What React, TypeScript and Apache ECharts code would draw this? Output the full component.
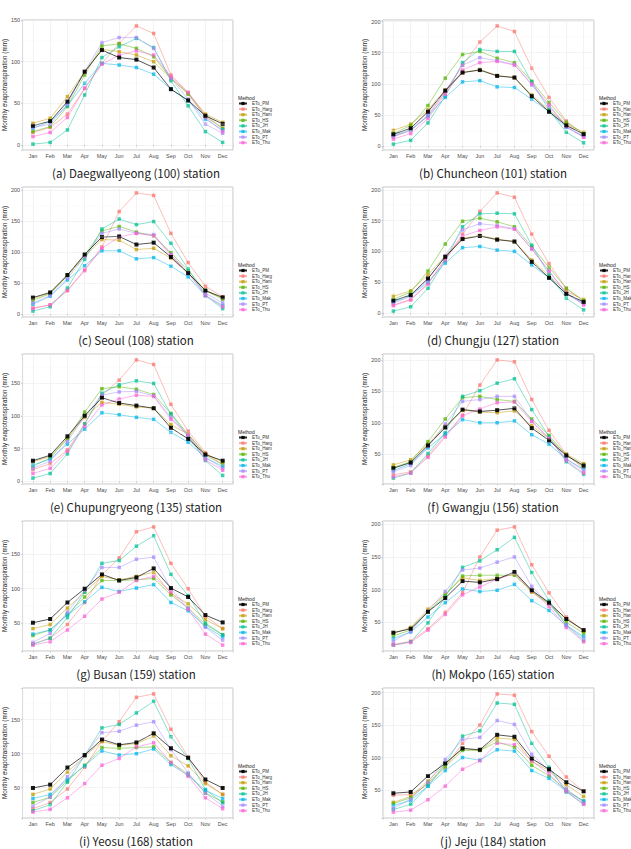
import React, { useEffect, useRef } from "react";
import * as echarts from "echarts";

const MONTHS = ["Jan", "Feb", "Mar", "Apr", "May", "Jun", "Jul", "Aug", "Sep", "Oct", "Nov", "Dec"];
const STATIONS = [
  "(a) Daegwallyeong (100) station",
  "(b) Chuncheon (101) station",
  "(c) Seoul (108) station",
  "(d) Chungju (127) station",
  "(e) Chupungryeong (135) station",
  "(f) Gwangju (156) station",
  "(g) Busan (159) station",
  "(h) Mokpo (165) station",
  "(i) Yeosu (168) station",
  "(j) Jeju (184) station",
];
const METHODS = ["ETo_PM", "ETo_Harg", "ETo_Ham", "ETo_HS", "ETo_JH", "ETo_Mak", "ETo_PT", "ETo_Thu"];
const COLORS = ["#000000", "#F8766D", "#C49A00", "#53B400", "#00C094", "#00B6EB", "#A58AFF", "#FB61D7"];

// one row per station (a)..(j), 12 monthly values
const etoPM = [
  [23, 28.5, 52, 88, 114, 105, 102.5, 93, 67, 53.5, 35, 25.3],
  [18.8, 28.4, 55, 89, 118, 122, 112.6, 110, 80, 55, 33, 19],
  [26.7, 35, 63, 96, 124, 125, 112, 115, 92, 66, 38, 27],
  [20, 29, 56, 91, 120, 125, 119, 116, 83, 57, 31, 18],
  [31.6, 40, 69, 100.5, 128, 120, 116, 112, 82, 65, 41, 31.6],
  [27.7, 36.7, 64, 92.5, 121, 118, 120, 123, 91.5, 72, 48, 32],
  [50.5, 56, 80, 100, 121, 112, 116.5, 129.6, 101, 88, 61.7, 51],
  [34, 40, 66, 87, 113, 111, 116, 127, 99, 80, 55, 38],
  [49.5, 54.4, 79.6, 98, 121, 113, 116.5, 130, 108, 94, 62, 49.5],
  [45, 47, 71.6, 91, 114, 112, 135, 132, 98.5, 82, 62, 48],
];
const etoHarg = [
  [15, 21, 37, 68, 98, 122, 143, 134, 84, 63, 36, 20],
  [15, 25, 48, 86, 130, 167, 193, 184, 125, 78, 40, 18],
  [10, 15, 38, 72, 108, 165, 195, 191, 130, 83, 45, 28],
  [13, 22, 48, 88, 128, 165, 195, 188, 128, 80, 40, 18],
  [18, 27, 48, 88, 132, 155, 186, 179, 118, 77, 44, 25],
  [17, 22, 47, 80, 112, 160, 200, 197, 137, 88, 50, 27],
  [20, 28, 48, 80, 120, 145, 183, 190, 137, 100, 60, 42],
  [16, 21, 40, 65, 95, 150, 191, 196, 138, 95, 58, 36],
  [19, 28, 48, 80, 118, 147, 183, 188, 136, 95, 58, 40],
  [42, 43, 58, 85, 122, 150, 198, 196, 140, 102, 70, 48],
];
const etoHam = [
  [26, 32, 58, 88, 115, 112, 108, 100, 80, 62, 37, 27],
  [25, 35, 58, 90, 118, 123, 113, 110, 82, 58, 35, 22],
  [25, 34, 62, 93, 120, 119, 104, 106, 90, 66, 38, 26],
  [27, 36, 62, 93, 121, 126, 120, 116, 86, 60, 35, 22],
  [30, 38, 66, 98, 121, 118, 114, 112, 87, 72, 42, 30],
  [33, 41, 66, 95, 120, 117, 116, 119, 95, 75, 50, 35],
  [42, 48, 72, 95, 118, 113, 118, 124, 93, 78, 55, 42],
  [33, 42, 70, 93, 118, 114, 117, 124, 96, 78, 55, 37],
  [40, 48, 73, 96, 118, 112, 115, 126, 97, 82, 56, 40],
  [31, 40, 64, 90, 114, 111, 130, 128, 94, 80, 58, 40],
];
const etoHS = [
  [16, 22, 46, 84, 119, 121.5, 116, 106, 80, 61, 34, 20],
  [20, 33, 65, 109, 147, 152, 141, 134, 104, 70, 38, 20],
  [22, 33, 62, 95, 134, 141, 132, 126, 99, 70, 38, 24],
  [22, 34, 68, 112, 149, 154, 148, 140, 108, 74, 40, 20],
  [23, 36, 65, 106, 142, 145, 141, 133, 104, 72, 40, 26],
  [29, 38, 70, 106, 140, 142, 137, 134, 106, 80, 48, 30],
  [32, 40, 63, 88, 112, 112, 113, 115, 91, 72, 48, 33],
  [29, 38, 66, 91, 121, 122, 122, 122, 98, 78, 50, 33],
  [28, 36, 60, 83, 109, 108, 109, 110, 87, 70, 42, 29],
  [29, 38, 61, 86, 111, 111, 124, 116, 88, 72, 50, 33],
];
const etoJH = [
  [1, 3, 18, 60, 105, 118, 128, 117, 77, 47, 16, 3],
  [3, 9, 37, 80, 134, 155, 152, 152, 103, 58, 22, 5],
  [5, 12, 42, 88, 137, 153, 144, 149, 114, 73, 30, 9],
  [3, 10, 40, 85, 140, 161, 162, 161, 110, 62, 24, 5],
  [5, 12, 42, 88, 135, 148, 154, 150, 103, 69, 32, 9],
  [12, 20, 51, 84, 142, 151, 163, 170, 121, 78, 38, 18],
  [19, 28, 58, 95, 137, 141, 162, 177, 121, 90, 50, 33],
  [15, 20, 49, 89, 134, 144, 161, 180, 126, 83, 45, 22],
  [16, 25, 58, 97, 138, 143, 160, 177, 125, 93, 47, 28],
  [20, 28, 56, 90, 133, 141, 184, 182, 122, 85, 47, 28],
];
const etoMak = [
  [20, 28, 47, 74, 98, 96, 93, 85, 67, 53, 31, 18],
  [17, 26, 48, 78, 103, 105, 95, 94, 75, 55, 30, 16],
  [16, 29, 55, 78, 102, 102, 89, 91, 77, 60, 30, 14],
  [18, 28, 50, 81, 106, 108, 102, 100, 78, 57, 31, 16],
  [25, 34, 57, 80, 105, 102, 98, 95, 75, 60, 36, 23],
  [24, 35, 60, 82, 105, 100, 100, 103, 81, 66, 42, 26],
  [34, 40, 62, 81, 102, 96, 101, 106, 80, 68, 45, 30],
  [25, 35, 58, 80, 101, 97, 99, 108, 83, 68, 45, 28],
  [34, 40, 62, 82, 104, 98, 100, 107, 84, 68, 46, 34],
  [26, 34, 56, 80, 100, 96, 112, 110, 80, 68, 48, 33],
];
const etoPT = [
  [21, 25, 49, 88, 123, 129, 129, 116, 80, 55, 25, 14],
  [15, 25, 50, 88, 130, 142, 137, 131, 98, 64, 30, 14],
  [18, 30, 58, 92, 130, 137, 130, 128, 96, 66, 34, 18],
  [16, 27, 54, 93, 135, 145, 142, 137, 104, 68, 32, 14],
  [20, 31, 61, 100, 132, 137, 138, 131, 98, 69, 37, 20],
  [22, 32, 62, 98, 134, 137, 142, 142, 103, 75, 43, 24],
  [22, 35, 66, 98, 131, 131, 143, 146, 100, 72, 44, 25],
  [21, 36, 67, 97, 130, 133, 142, 150, 105, 78, 46, 25],
  [23, 36, 66, 97, 131, 133, 142, 147, 106, 72, 42, 23],
  [22, 36, 62, 97, 128, 131, 157, 151, 105, 80, 52, 30],
];
const etoThu = [
  [10, 15, 33, 68, 97, 108, 113, 108, 82, 63, 33, 16],
  [11, 20, 44, 83, 122, 134, 136, 130, 100, 66, 32, 14],
  [9, 15, 38, 70, 106, 124, 130, 126, 95, 66, 30, 12],
  [12, 21, 47, 86, 125, 134, 140, 136, 104, 68, 32, 13],
  [12, 20, 46, 84, 117, 126, 132, 130, 95, 72, 33, 17],
  [14, 20, 45, 77, 111, 122, 132, 133, 102, 75, 40, 20],
  [18, 23, 40, 60, 85, 95, 112, 118, 95, 70, 34, 18],
  [15, 19, 38, 62, 92, 104, 116, 125, 98, 74, 42, 20],
  [14, 18, 35, 56, 83, 93, 110, 116, 87, 67, 35, 19],
  [16, 19, 35, 56, 82, 95, 122, 120, 95, 75, 48, 28],
];

const SERIES_DATA = [etoPM, etoHarg, etoHam, etoHS, etoJH, etoMak, etoPT, etoThu];

export default function App() {
  const ref = useRef<HTMLDivElement>(null);
  useEffect(() => {
    const chart = echarts.init(ref.current as HTMLDivElement, null, { renderer: "svg" });
    const grids: any[] = [];
    const xAxes: any[] = [];
    const yAxes: any[] = [];
    const series: any[] = [];
    const legends: any[] = [];
    const graphics: any[] = [];
    const axisText = { fontSize: 5.5, color: "#4d4d4d", fontFamily: "Liberation Sans, Arial, sans-serif" };

    STATIONS.forEach((station, p) => {
      const col = p % 2;
      const row = Math.floor(p / 2);
      const left = 22 + col * 361;
      const top = 20 + row * 167;
      const width = 211;
      const height = 130;
      const vals = SERIES_DATA.flatMap((d) => d[p]);
      const lo = Math.min(...vals);
      const hi = Math.max(...vals);
      const pad = (hi - lo) * 0.05;
      const yMin = lo - pad;
      const yMax = hi + pad;

      grids.push({
        left, top, width, height,
        show: true, borderColor: "#b3b3b3", borderWidth: 0.8, backgroundColor: "#ffffff",
      });
      xAxes.push({
        type: "value", gridIndex: p, min: 0.4, max: 12.6, minInterval: 1, maxInterval: 1,
        axisLine: { show: false },
        axisTick: { show: true, length: 1.5, lineStyle: { color: "#b3b3b3", width: 0.6 } },
        axisLabel: {
          ...axisText, margin: 2.5,
          formatter: (v: number) => (Math.abs(v - Math.round(v)) < 1e-6 && v >= 1 && v <= 12 ? MONTHS[Math.round(v) - 1] : ""),
        },
        splitLine: { show: true, lineStyle: { color: "#ebebeb", width: 0.6 } },
      });
      yAxes.push({
        type: "value", gridIndex: p, min: yMin, max: yMax, minInterval: 50, maxInterval: 50, splitNumber: 4,
        name: "Monthly evapotranspiration (mm)", nameLocation: "middle", nameGap: 12,
        nameTextStyle: { fontSize: 6.3, color: "#1a1a1a", fontFamily: "Liberation Sans, Arial, sans-serif" },
        axisLine: { show: false },
        axisTick: { show: true, length: 1.5, lineStyle: { color: "#b3b3b3", width: 0.6 } },
        axisLabel: {
          ...axisText, margin: 2.5,
          formatter: (v: number) => (Math.abs(v / 50 - Math.round(v / 50)) < 1e-6 ? String(Math.round(v)) : ""),
        },
        splitLine: { show: true, lineStyle: { color: "#ebebeb", width: 0.6 } },
      });
      const minors: any[] = [];
      for (let v = 25; v < yMax; v += 50) if (v > yMin) minors.push({ yAxis: v });
      series.push({
        type: "line", xAxisIndex: p, yAxisIndex: p, data: [], silent: true, z: 1,
        markLine: {
          silent: true, symbol: ["none", "none"], label: { show: false },
          lineStyle: { color: "#f3f3f3", width: 0.4, type: "solid" }, data: minors,
        },
      });
      METHODS.forEach((m, k) => {
        const isPM = k === 0;
        series.push({
          name: m, type: "line", xAxisIndex: p, yAxisIndex: p, silent: true,
          data: SERIES_DATA[k][p].map((v, i) => [i + 1, v]),
          symbol: "rect", symbolSize: isPM ? 4 : 3.5, showSymbol: true,
          z: isPM ? 4 : 3,
          color: COLORS[k],
          lineStyle: { color: COLORS[k], width: 0.8, opacity: isPM ? 0.85 : 0.6 },
          itemStyle: { color: COLORS[k], opacity: isPM ? 0.9 : 0.75 },
          emphasis: { disabled: true },
        });
      });
      legends.push({
        orient: "vertical", left: left + width + 5, top: top + 81, padding: 0,
        itemWidth: 8, itemHeight: 4, itemGap: 0.6, selectedMode: false,
        textStyle: { fontSize: 4.5, color: "#333", fontFamily: "Liberation Sans, Arial, sans-serif" },
        data: METHODS,
      });
      graphics.push({
        type: "text", x: left + width + 5, y: top + 78,
        style: { text: "Method", fontSize: 5, fill: "#1a1a1a", fontFamily: "Liberation Sans, Arial, sans-serif", textVerticalAlign: "middle" },
      });
      graphics.push({
        type: "text", x: col === 0 ? 136 : 493, y: top + 153,
        style: { text: station, fontSize: 11.5, fill: "#222", fontFamily: "Noto Sans CJK KR, Noto Sans, sans-serif", textAlign: "center", textVerticalAlign: "middle" },
      });
    });

    chart.setOption({
      animation: false,
      backgroundColor: "#ffffff",
      grid: grids,
      xAxis: xAxes,
      yAxis: yAxes,
      series,
      legend: legends,
      graphic: graphics,
    });
    return () => chart.dispose();
  }, []);
  return <div ref={ref} style={{ position: "absolute", left: 0, top: 0, width: 631, height: 849 }} />;
}
